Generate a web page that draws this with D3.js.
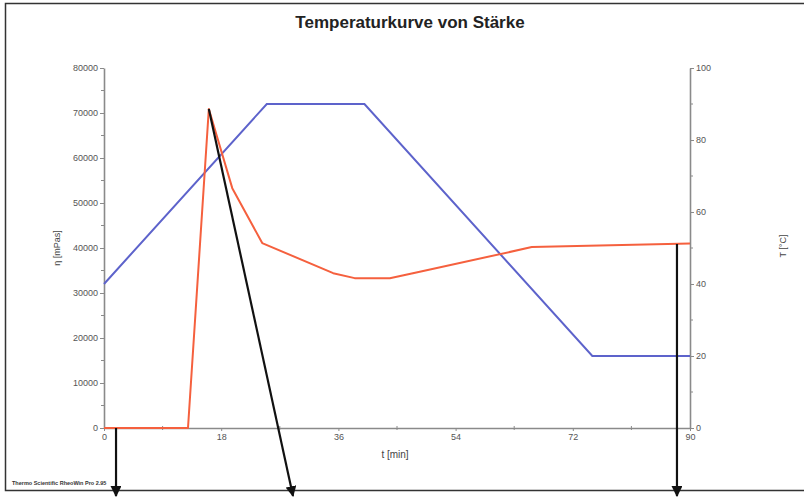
<!DOCTYPE html>
<html>
<head>
<meta charset="utf-8">
<script src="https://cdn.jsdelivr.net/npm/d3@7"></script>
<style>
  body { margin: 0; background: #fff; }
  svg { display: block; font-family: "Liberation Sans", Arial, sans-serif; }
</style>
</head>
<body>
<svg id="chart" width="804" height="498"></svg>
<script>
// Temperaturprogramm (blau, rechte Achse)
const tempTime = [0, 25, 40, 75, 90];
const tempValues = [40, 90, 90, 20, 20];

// Viskosität (rot, linke Achse)
const viscTime = [0, 12.9, 16.1, 19.7, 24.3, 35.2, 38.5, 43.9, 48.5, 65.7, 90];
const viscValues = [0, 0, 70900, 53300, 41100, 34400, 33300, 33300, 34700, 40200, 41000];

const xTicks = [0, 18, 36, 54, 72, 90];
const leftTicks = [0, 10000, 20000, 30000, 40000, 50000, 60000, 70000, 80000];
const rightTicks = [0, 20, 40, 60, 80, 100];

// Pfeile (Anmerkungen): Start auf der Kurve, Ende unter dem Diagramm
const arrows = [
  { from: [1.85, 0], to: [116, 496] },
  { from: [16.1, 70900], to: [293, 496] },
  { from: [88.0, 40900], to: [677, 496] }
];

const svg = d3.select('#chart');
const m = { left: 104, right: 690, top: 68, bottom: 428 };

const x = d3.scaleLinear().domain([0, 90]).range([m.left, m.right]);
const yL = d3.scaleLinear().domain([0, 80000]).range([m.bottom, m.top]);
const yR = d3.scaleLinear().domain([0, 100]).range([m.bottom, m.top]);

// Rahmen
svg.append('path')
  .attr('d', `M804,3.5H5.5V490.5H804`)
  .attr('fill', 'none').attr('stroke', '#333').attr('stroke-width', 1.5);

svg.append('text')
  .attr('x', 410).attr('y', 28).attr('text-anchor', 'middle')
  .attr('font-size', 17).attr('font-weight', 'bold').attr('fill', '#222')
  .text('Temperaturkurve von Stärke');

const axisColor = '#8a8a8a';
const styleAxis = g => {
  g.select('.domain').attr('stroke', axisColor).attr('stroke-width', 1.6);
  g.selectAll('.tick line').attr('stroke', axisColor);
  g.selectAll('.tick text').attr('fill', '#555').attr('font-size', 9);
};

const gL = svg.append('g').attr('transform', `translate(${m.left},0)`)
  .call(d3.axisLeft(yL).tickValues(leftTicks).tickSize(4).tickSizeOuter(0).tickPadding(2).tickFormat(d3.format('d')));
gL.call(styleAxis);
d3.range(5000, 80000, 10000).forEach(v => {
  gL.append('line').attr('x1', -3).attr('x2', 0).attr('y1', yL(v)).attr('y2', yL(v)).attr('stroke', axisColor);
});

const gR = svg.append('g').attr('transform', `translate(${m.right},0)`)
  .call(d3.axisRight(yR).tickValues(rightTicks).tickSize(4).tickSizeOuter(0).tickPadding(2));
gR.call(styleAxis);
d3.range(10, 100, 20).forEach(v => {
  gR.append('line').attr('x1', 0).attr('x2', 3).attr('y1', yR(v)).attr('y2', yR(v)).attr('stroke', axisColor);
});

const gX = svg.append('g').attr('transform', `translate(0,${m.bottom})`)
  .call(d3.axisBottom(x).tickValues(xTicks).tickSize(3).tickSizeOuter(0).tickPadding(3));
gX.call(styleAxis);
d3.range(9, 90, 18).forEach(v => {
  gX.append('line').attr('x1', x(v)).attr('x2', x(v)).attr('y1', -2).attr('y2', 2).attr('stroke', axisColor);
});

// Achsentitel
svg.append('text').attr('transform', 'translate(60,248) rotate(-90)')
  .attr('text-anchor', 'middle').attr('font-size', 9).attr('fill', '#444').text('η [mPas]');
svg.append('text').attr('transform', 'translate(786,246) rotate(-90)')
  .attr('text-anchor', 'middle').attr('font-size', 9).attr('fill', '#444').text('T [°C]');
svg.append('text').attr('x', 395).attr('y', 458)
  .attr('text-anchor', 'middle').attr('font-size', 10).attr('fill', '#444').text('t [min]');
svg.append('text').attr('x', 12).attr('y', 485)
  .attr('font-size', 5.5).attr('font-weight', 'bold').attr('fill', '#333').text('Thermo Scientific RheoWin Pro 2.95');

// Kurven
const tempLine = d3.line().x(d => x(d[0])).y(d => yR(d[1]));
svg.append('path')
  .datum(d3.zip(tempTime, tempValues))
  .attr('d', tempLine)
  .attr('fill', 'none').attr('stroke', '#5d63cb').attr('stroke-width', 2);

const viscLine = d3.line().x(d => x(d[0])).y(d => yL(d[1]));
svg.append('path')
  .datum(d3.zip(viscTime, viscValues))
  .attr('d', viscLine)
  .attr('fill', 'none').attr('stroke', '#f5603e').attr('stroke-width', 2).attr('stroke-linejoin', 'round');

// Pfeile
const defs = svg.append('defs');
defs.append('marker').attr('id', 'head')
  .attr('viewBox', '0 0 10 10').attr('refX', 9).attr('refY', 5)
  .attr('markerWidth', 5).attr('markerHeight', 5).attr('orient', 'auto')
  .append('path').attr('d', 'M0,0L10,5L0,10z').attr('fill', '#111');

arrows.forEach(a => {
  svg.append('line')
    .attr('x1', x(a.from[0])).attr('y1', yL(a.from[1]))
    .attr('x2', a.to[0]).attr('y2', a.to[1])
    .attr('stroke', '#111').attr('stroke-width', 2.2)
    .attr('marker-end', 'url(#head)');
});
</script>
</body>
</html>
